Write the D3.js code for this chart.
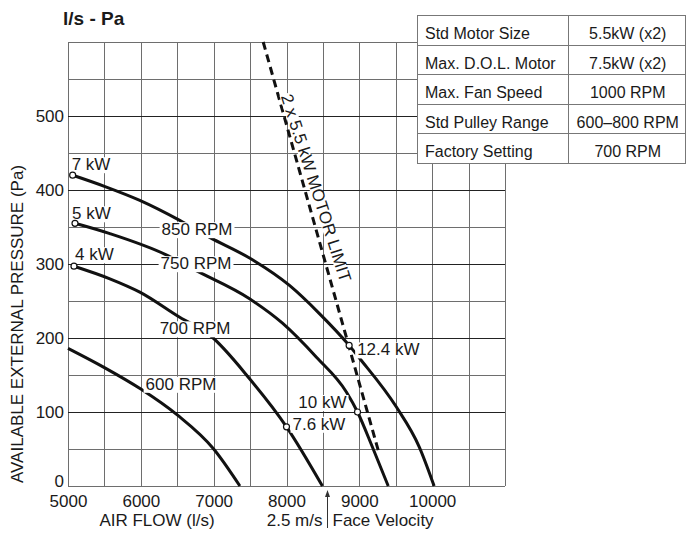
<!DOCTYPE html>
<html>
<head>
<meta charset="utf-8">
<script src="https://cdn.jsdelivr.net/npm/d3@7"></script>
<style>
body{margin:0;background:#fff}
text{font-family:"Liberation Sans",Arial,Helvetica,sans-serif;fill:#1a1a1a}
</style>
</head>
<body>
<svg id="chart" width="686" height="535"></svg>
<script>
// fan curves, flow (l/s) vs pressure (Pa)
var rpm850 = [[5064,420],[5500,405],[5986,386],[6534,359],[6945,336],[7493,308],[8041,271],[8452,233],[8860,190],[9000,173],[9507,107],[9822,53],[10027,0]];
var rpm750 = [[5096,355],[5575,341],[6356,312],[6740,292],[7493,253],[7945,220],[8411,174],[8822,127],[8975,100],[9178,53],[9397,0]];
var rpm700 = [[5082,297],[5575,280],[5986,262],[6534,228],[6945,204],[7493,145],[8000,80],[8493,0]];
var rpm600 = [[5000,186],[5500,160],[6000,131],[6500,96],[7000,50],[7360,0]];
var motorLimit = [[7680,600],[9260,48]];

var rpmNames = ["850 RPM","750 RPM","700 RPM","600 RPM"];
var rpmLabelAt = [[6772,347],[6758,301],[6745,213],[6552,138]];

var kwPoints = [[5064,420],[5096,355],[5082,297],[8860,190],[8975,100],[8000,80]];
var kwLabels = ["7 kW","5 kW","4 kW","12.4 kW","10 kW","7.6 kW"];

var xTicks = [5000,6000,7000,8000,9000,10000];
var yTicks = [0,100,200,300,400,500];

var tableLabels = ["Std Motor Size","Max. D.O.L. Motor","Max. Fan Speed","Std Pulley Range","Factory Setting"];
var tableValues = ["5.5kW (x2)","7.5kW (x2)","1000 RPM","600\u2013800 RPM","700 RPM"];

var faceVelocityFlow = 8550;

var svg = d3.select("#chart");
var x = d3.scaleLinear().domain([5000,11000]).range([68,505]);
var y = d3.scaleLinear().domain([0,600]).range([486,42]);

// grid
var grid = svg.append("g").attr("shape-rendering","crispEdges");
grid.selectAll(".vx").data(d3.range(5000,11001,500)).enter().append("line")
  .attr("x1",function(d){return Math.round(x(d))+0.5}).attr("x2",function(d){return Math.round(x(d))+0.5})
  .attr("y1",y(0)).attr("y2",y(600))
  .attr("stroke","#6e6e6e");
grid.selectAll(".hy").data(d3.range(0,601,50)).enter().append("line")
  .attr("x1",x(5000)).attr("x2",x(11000))
  .attr("y1",function(d){return Math.round(y(d))+0.5}).attr("y2",function(d){return Math.round(y(d))+0.5})
  .attr("stroke",function(d){return (d%100==0 && d>0 && d<600) ? "#222" : "#6e6e6e"});

// axes
var xa = svg.append("g").attr("transform","translate(0,"+y(0)+")")
  .call(d3.axisBottom(x).tickValues(xTicks).tickSize(0).tickPadding(9).tickFormat(d3.format("d")));
xa.select(".domain").remove();
xa.attr("font-size",17).attr("font-family",null);

var ya = svg.append("g").attr("transform","translate("+x(5000)+",0)")
  .call(d3.axisLeft(y).tickValues(yTicks).tickSize(0).tickPadding(4));
ya.select(".domain").remove();
ya.attr("font-size",17).attr("font-family",null);
// the zero label sits just above the baseline
ya.selectAll(".tick text").filter(function(d){return d===0}).attr("dy","0.05em");

svg.append("text").attr("x",63).attr("y",25).attr("font-size",19).attr("font-weight","bold").text("l/s - Pa");

svg.append("text").attr("transform","translate(17,324) rotate(-90)")
  .attr("text-anchor","middle").attr("dy","0.35em").attr("font-size",17)
  .text("AVAILABLE EXTERNAL PRESSURE (Pa)");

svg.append("text").attr("x",157).attr("y",526).attr("text-anchor","middle").attr("font-size",17).text("AIR FLOW (l/s)");

var fx = Math.round(x(faceVelocityFlow))+0.5;
svg.append("line").attr("x1",fx).attr("x2",fx).attr("y1",495).attr("y2",528).attr("stroke","#333").attr("stroke-width",1);
svg.append("path").attr("d","M"+fx+",490L"+(fx-2.5)+",497L"+(fx+2.5)+",497Z").attr("fill","#333");
svg.append("text").attr("x",fx-5).attr("y",526).attr("text-anchor","end").attr("font-size",17).text("2.5 m/s");
svg.append("text").attr("x",fx+5).attr("y",526).attr("font-size",17).text("Face Velocity");

// curves
var line = d3.line().x(function(d){return x(d[0])}).y(function(d){return y(d[1])}).curve(d3.curveMonotoneX);
svg.append("g").selectAll("path").data([rpm850,rpm750,rpm700,rpm600]).enter().append("path")
  .attr("d",line).attr("fill","none").attr("stroke","#111").attr("stroke-width",3);

svg.append("path").attr("d",d3.line().x(function(d){return x(d[0])}).y(function(d){return y(d[1])})(motorLimit))
  .attr("fill","none").attr("stroke","#111").attr("stroke-width",3).attr("stroke-dasharray","8,5");

// text with white box behind
function boxed(g, txt, px, py, anchor, dy, padX, padY){
  var t = g.append("text").attr("x",px).attr("y",py).attr("text-anchor",anchor).attr("dy",dy).attr("font-size",17).text(txt);
  var b = t.node().getBBox();
  g.insert("rect",function(){return t.node()})
    .attr("x",b.x-padX).attr("y",b.y+3-padY).attr("width",b.width+2*padX).attr("height",b.height-5+2*padY)
    .attr("fill","#fff");
}

var labels = svg.append("g");
rpmNames.forEach(function(n,i){
  boxed(labels, n, x(rpmLabelAt[i][0]), y(rpmLabelAt[i][1]), "middle", "0.35em", 2, 1);
});

var kwOffset = [[-1,-5,"start"],[-3,-4,"start"],[1,-6,"start"],[8,10,"start"],[-11,-4,"end"],[6,3,"start"]];
kwLabels.forEach(function(n,i){
  var o = kwOffset[i];
  boxed(labels, n, x(kwPoints[i][0])+o[0], y(kwPoints[i][1])+o[1], o[2], "0", 2, 1);
});

// motor limit label along the dashed line (slightly less steep than the line)
var ang = Math.atan2(y(motorLimit[1][1])-y(motorLimit[0][1]), x(motorLimit[1][0])-x(motorLimit[0][0]))*180/Math.PI - 2;
var mp = 398, mf = motorLimit[0][0] + (motorLimit[0][1]-mp)/(motorLimit[0][1]-motorLimit[1][1])*(motorLimit[1][0]-motorLimit[0][0]);
var lg = svg.append("g").attr("transform","translate("+x(mf)+","+y(mp)+") rotate("+ang+")");
boxed(lg, "2 x 5.5 kW MOTOR LIMIT", 0, -11.5, "middle", "0.35em", 1, -1);

// markers
svg.append("g").selectAll("circle").data(kwPoints).enter().append("circle")
  .attr("cx",function(d){return x(d[0])}).attr("cy",function(d){return y(d[1])}).attr("r",3)
  .attr("fill","#fff").attr("stroke","#111").attr("stroke-width",1.2);

// spec table
var tx0 = 417, tx1 = 568, tx2 = 685.5, ty0 = 15, rh = 29.6;
var tbl = svg.append("g");
tbl.append("rect").attr("x",tx0+0.5).attr("y",ty0+0.5).attr("width",tx2-tx0-0.5).attr("height",rh*5)
  .attr("fill","#fff").attr("stroke","#777");
tbl.selectAll(".rl").data(d3.range(1,5)).enter().append("line")
  .attr("x1",tx0).attr("x2",tx2).attr("y1",function(d){return Math.round(ty0+d*rh)+0.5}).attr("y2",function(d){return Math.round(ty0+d*rh)+0.5})
  .attr("stroke","#777");
tbl.append("line").attr("x1",tx1+0.5).attr("x2",tx1+0.5).attr("y1",ty0).attr("y2",ty0+5*rh).attr("stroke","#777");
tbl.selectAll(".tl").data(tableLabels).enter().append("text")
  .attr("x",tx0+8).attr("y",function(d,i){return ty0+i*rh+24}).attr("font-size",16).text(function(d){return d});
tbl.selectAll(".tv").data(tableValues).enter().append("text")
  .attr("x",(tx1+tx2)/2+1).attr("y",function(d,i){return ty0+i*rh+24}).attr("text-anchor","middle").attr("font-size",16).text(function(d){return d});
</script>
</body>
</html>
